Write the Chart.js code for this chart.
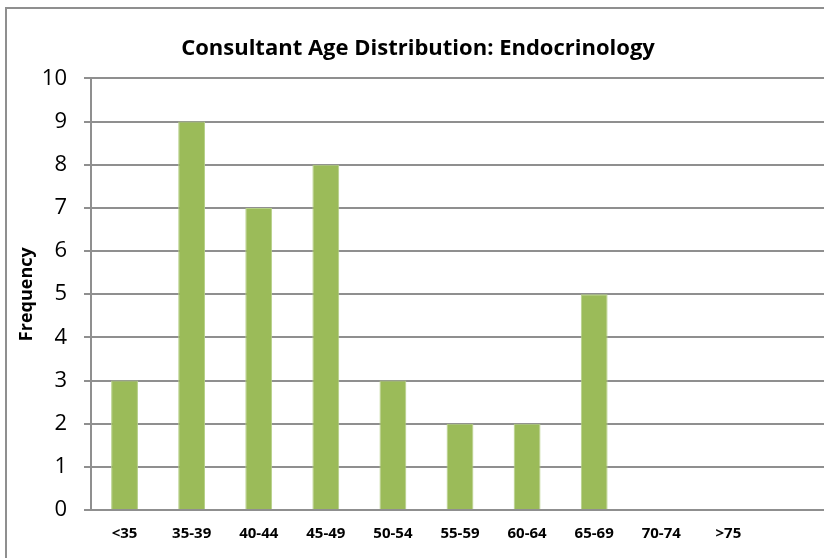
<!DOCTYPE html>
<html>
<head>
<meta charset="utf-8">
<script src="https://cdn.jsdelivr.net/npm/chart.js@4.4.1/dist/chart.umd.min.js"></script>
<style>
    html, body { margin: 0; padding: 0; background: #fff; overflow: hidden; }
    #caixa {
        position: absolute; left: 5px; top: 7px;
        width: 826px; height: 560px;
        border: 2px solid #8f8f8f;
        box-sizing: border-box;
    }
    #grafico { display: block; }
</style>
</head>
<body>
<div id="caixa"><canvas id="grafico" width="822" height="556"></canvas></div>
<script>
// faixas etárias (a última fica vazia, como no original)
var faixas = ['<35', '35-39', '40-44', '45-49', '50-54', '55-59', '60-64', '65-69', '70-74', '>75', ''];
var frequencia = [3, 9, 7, 8, 3, 2, 2, 5, 0, 0, null];
var ticksY = [0, 1, 2, 3, 4, 5, 6, 7, 8, 9, 10];

var fonte = '"Open Sans", Lato, sans-serif';
var cinza = '#8f8f8f';

var ctx = document.getElementById('grafico').getContext('2d');
var myChart = new Chart(ctx, {
    type: 'bar',
    data: {
        labels: faixas,
        datasets: [{
            label: 'Frequency',
            data: frequencia,
            backgroundColor: '#9bbb59',
            borderColor: '#b5cf86',
            borderWidth: 1,
            categoryPercentage: 1,
            barPercentage: 0.4
        }]
    },
    options: {
        responsive: false,
        animation: false,
        layout: { padding: { left: 0, right: 0, top: 0, bottom: 0 } },
        plugins: {
            legend: { display: false },
            tooltip: { enabled: false },
            title: {
                display: true,
                text: 'Consultant Age Distribution: Endocrinology',
                color: '#000',
                font: { family: fonte, size: 22, weight: 'bold' },
                padding: { top: 27, bottom: 16 }
            }
        },
        scales: {
            x: {
                grid: { display: false },
                border: { display: true, color: cinza, width: 2 },
                ticks: {
                    color: '#000',
                    font: { family: fonte, size: 15, weight: 'bold' },
                    maxRotation: 0,
                    autoSkip: false,
                    padding: 7
                },
                afterFit: function(scale) { scale.height = 55; }
            },
            y: {
                min: 0,
                max: 10,
                afterBuildTicks: function(scale) {
                    scale.ticks = ticksY.map(function(v) { return { value: v }; });
                },
                grid: { color: cinza, lineWidth: 2, tickLength: 7 },
                border: { display: true, color: cinza, width: 2 },
                ticks: {
                    color: '#000',
                    font: { family: fonte, size: 22 },
                    padding: 17
                },
                title: {
                    display: true,
                    text: 'Frequency',
                    color: '#000',
                    font: { family: fonte, size: 18, weight: 'bold' },
                    padding: { top: 9, bottom: 10 }
                },
                afterFit: function(scale) { scale.width = 84; }
            }
        }
    }
});
</script>
</body>
</html>
